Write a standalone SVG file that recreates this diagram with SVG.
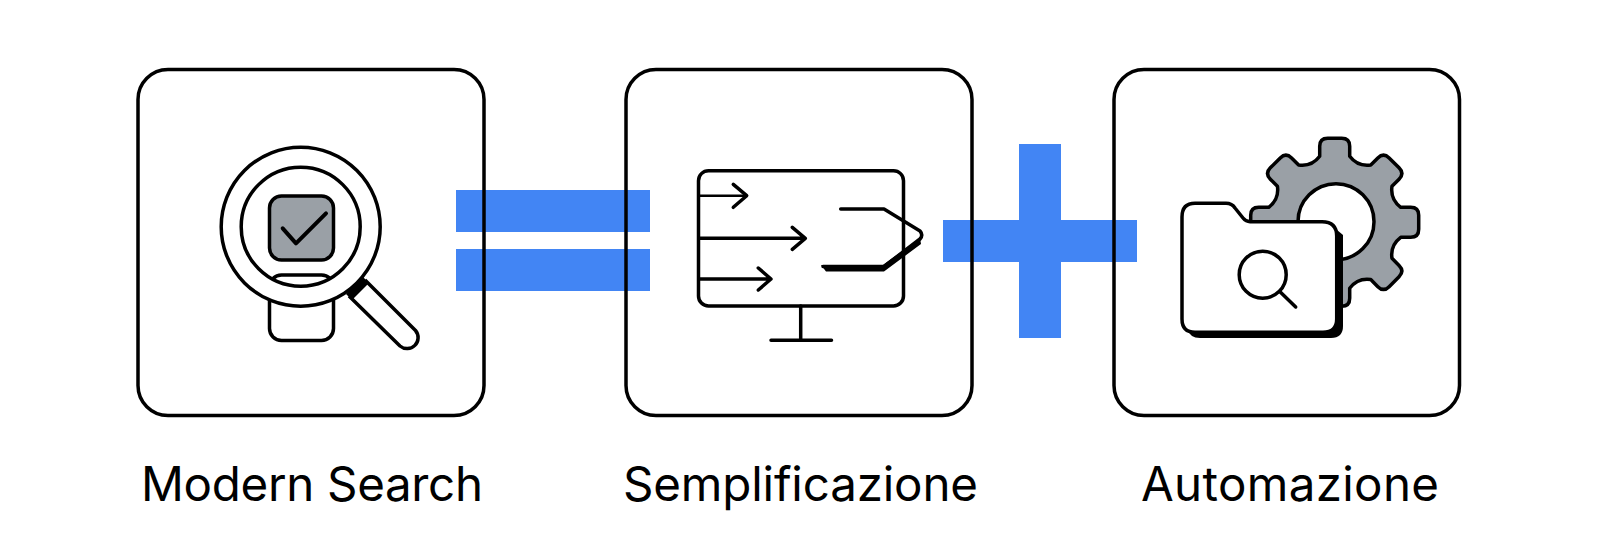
<svg xmlns="http://www.w3.org/2000/svg" width="1600" height="556" viewBox="0 0 1600 556">
<style>
.l{fill:none;stroke:#000;stroke-width:3.500;stroke-linecap:round;stroke-linejoin:round}
.w{fill:#fff;stroke:#000;stroke-width:3.500;stroke-linejoin:round}
.g{fill:#9aa0a6;stroke:#000;stroke-width:3.500;stroke-linejoin:round}
.k{fill:#000;stroke:none}
.b{fill:#4285f4}
.t{font-family:"Inter","Roboto",sans-serif;font-size:47.500px;fill:#000;text-anchor:start}
</style>
<rect width="1600" height="556" fill="#fff"/>
<g id="operators">
<rect class="b" x="456" y="190" width="194" height="42"/>
<rect class="b" x="456" y="249" width="194" height="42"/>
<rect class="b" x="943" y="220" width="194" height="42"/>
<rect class="b" x="1019" y="144" width="42" height="194"/>
</g>
<g id="node-modern-search">
<rect class="l" x="138" y="69.500" width="346" height="346" rx="30"/>
<rect class="w" x="269.500" y="275" width="64" height="65.500" rx="12"/>
<path class="w" d="M365 280L415.500 330.500A11 11 0 0 1 400 346L349 296"/>
<path class="k" d="M346 294L363 277L369 283L352 300Z"/>
<path d="M300.700 147.200a79.500 79.500 0 1 0 .01 0ZM300.700 166.700a60 60 0 1 1 -.01 0Z" fill="#fff" fill-rule="evenodd"/>
<circle class="l" cx="300.700" cy="226.700" r="79.500"/>
<circle class="l" cx="300.700" cy="226.700" r="59.500"/>
<rect class="g" x="269.500" y="196" width="64" height="64" rx="12"/>
<path class="l" style="stroke-width:4" d="M282.700 228.300L296 243.300L326 213.300"/>
</g>
<g id="node-semplificazione">
<rect class="l" x="626" y="69.500" width="346" height="346" rx="30"/>
<rect class="l" x="698.500" y="170.700" width="205" height="135.300" rx="10"/>
<path class="l" d="M800.700 306V340M771 340.300H831.500"/>
<path class="l" style="stroke-width:2.500" d="M699 195.700H746"/>
<path class="l" d="M733.300 184.300L746.700 195.700L733.300 207.300"/>
<path class="l" d="M699 238.300H804M792.300 227.300L805.300 238.300L792.300 249.300"/>
<path class="l" d="M699 279H770M758.300 268L771 279L758.300 290"/>
<path class="k" d="M821 265H883L920 238L921 244L884 271.500H826Z"/>
<path class="l" d="M840.700 209H884L920 231Q923.500 235 920 239L884 266.500H823"/>
</g>
<g id="node-automazione">
<rect class="l" x="1114" y="69.500" width="345.500" height="346" rx="30"/>
<path class="g" transform="translate(1334.700 222.300)" d="M-15,-66L-15,-76Q-15,-84 -7,-84L7,-84Q15,-84 15,-76L15,-66Q23,-55.400 36.060,-57.280L43.130,-64.350Q48.790,-70 54.450,-64.350L64.350,-54.450Q70,-48.790 64.350,-43.130L57.280,-36.060Q55.400,-23 66,-15L76,-15Q84,-15 84,-7L84,7Q84,15 76,15L66,15Q55.400,23 57.280,36.060L64.350,43.130Q70,48.790 64.350,54.450L54.450,64.350Q48.790,70 43.130,64.350L36.060,57.280Q23,55.400 15,66L15,76Q15,84 7,84L-7,84Q-15,84 -15,76L-15,66Q-23,55.400 -36.060,57.280L-43.130,64.350Q-48.790,70 -54.450,64.350L-64.350,54.450Q-70,48.790 -64.350,43.130L-57.280,36.060Q-55.400,23 -66,15L-76,15Q-84,15 -84,7L-84,-7Q-84,-15 -76,-15L-66,-15Q-55.400,-23 -57.280,-36.060L-64.350,-43.130Q-70,-48.790 -64.350,-54.450L-54.450,-64.350Q-48.790,-70 -43.130,-64.350L-36.060,-57.280Q-23,-55.400 -15,-66Z"/>
<circle class="w" cx="1336" cy="221.700" r="38"/>
<path class="k" d="M1330 224L1343 235V326Q1343 338 1331 338H1200Q1190 338 1186 328Z"/>
<path class="w" d="M1182 217Q1182 203.300 1195 203.300H1226Q1232 203.300 1235 208L1243 218Q1246 221.700 1250 221.700H1322Q1336.700 221.700 1336.700 236V319Q1336.700 332.300 1323 332.300H1195Q1182 332.300 1182 319Z"/>
<circle class="l" cx="1262.700" cy="274.700" r="23.500"/>
<path class="l" d="M1280 291.700L1295.700 307"/>
</g>
<text class="t" x="141" y="501" textLength="342" lengthAdjust="spacing">Modern Search</text>
<text class="t" x="623" y="501" textLength="355" lengthAdjust="spacing">Semplificazione</text>
<text class="t" x="1141" y="501" textLength="298" lengthAdjust="spacing">Automazione</text>
</svg>
